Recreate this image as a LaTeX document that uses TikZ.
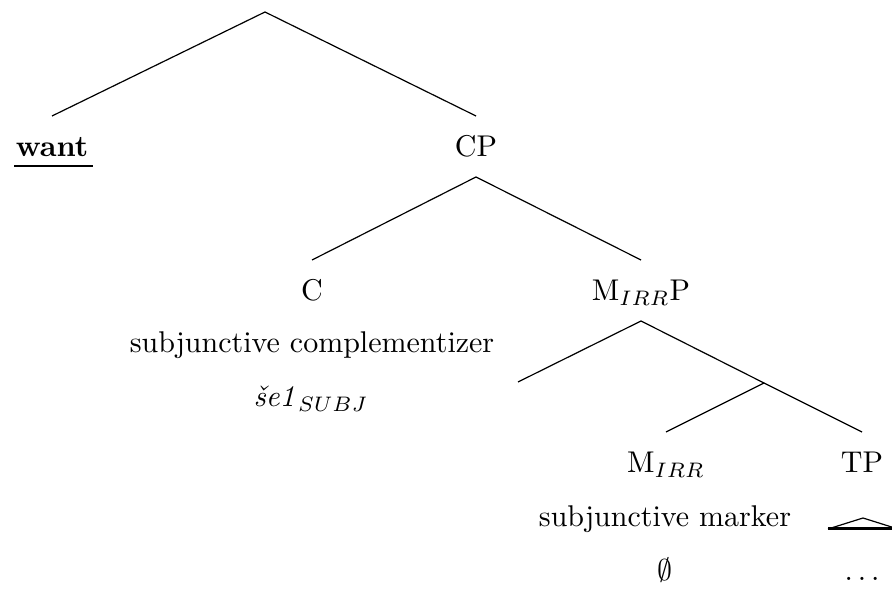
\documentclass[tikz,border=0pt]{standalone}
\usepackage{fontspec}
\usetikzlibrary{calc}
\begin{document}
\begin{tikzpicture}[x=0.3333pt,y=-0.3333pt,
  lab/.style={anchor=base,inner sep=0pt},
  branch/.style={line width=0.4pt},
  roofbase/.style={line width=1pt}]
\useasboundingbox (0,0) rectangle (892,591);
% labels
\coordinate (root) at (265,12);
\node[lab] (want) at (52,157) {\textbf{want}};
\node[lab] (CP) at (476,157) {CP};
\node[lab] (C) at (312,301) {C};
\node[lab] (Cdesc) at (312,353) {subjunctive complementizer};
\node[lab] (Cform) at (311,407) {\textit{še1}\kern1pt$_{SUBJ}$};
\node[lab] (MP) at (641,301) {M$_{IRR}$P};
\coordinate (Mleft) at (518,382);
\coordinate (Mbar) at (764,383);
\node[lab] (M) at (666,473) {M$_{IRR}$};
\node[lab] (Mdesc) at (665,527) {subjunctive marker};
\node[lab] (Mform) at (665,580) {$\emptyset$};
\node[lab] (TP) at (862,473) {TP};
\node[lab] (TPdots) at (862,580) {$\ldots$};
% underline of want
\draw[line width=0.9pt] ($(want.base west)+(-1,9)$) -- ($(want.base east)+(4,9)$);
% branches
\draw[branch] ($(want.base)+(0,-41)$) -- (root) -- ($(CP.base)+(0,-41)$);
\draw[branch] ($(C.base)+(0,-41)$) -- ($(CP.base)+(0,20)$) -- ($(MP.base)+(0,-41)$);
\draw[branch] (Mleft) -- ($(MP.base)+(0,20)$) -- (Mbar);
\draw[branch] ($(M.base)+(0,-41)$) -- (Mbar) -- ($(TP.base)+(0,-41)$);
% roof under TP
\draw[branch] (828,529) -- (863,518) -- (898,529);
\draw[roofbase] (828,529) -- (898,529);
\end{tikzpicture}
\end{document}
